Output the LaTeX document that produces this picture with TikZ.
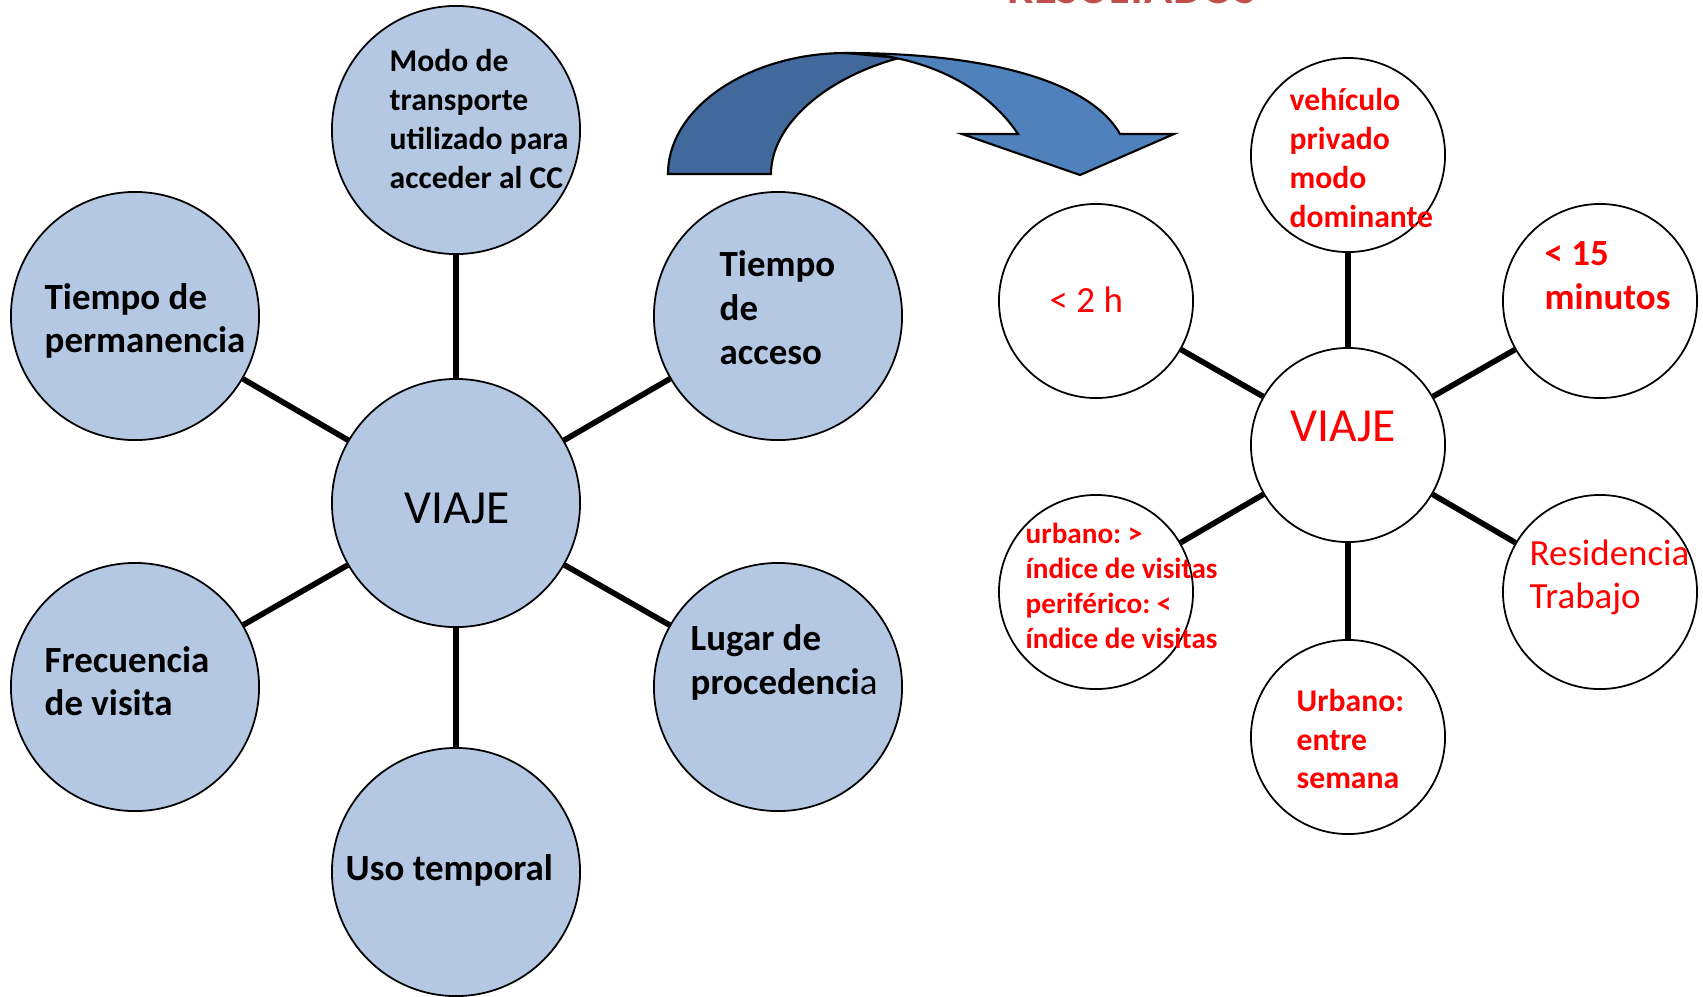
\documentclass[tikz,border=0pt]{standalone}
\usepackage{fontspec}
\setmainfont{Carlito}
\usetikzlibrary{calc}
\frenchspacing
\definecolor{azulclaro}{RGB}{180,199,227}
\definecolor{azuloscuro}{RGB}{65,105,155}
\definecolor{azulflecha}{RGB}{79,129,189}
\definecolor{rojotitulo}{RGB}{192,80,77}
\tikzset{
    grande/.style={circle,draw,line width=0.5pt,fill=azulclaro,minimum size=2.48cm,inner sep=0pt},
    chico/.style={circle,draw,line width=0.5pt,fill=white,minimum size=1.94cm,inner sep=0pt},
    radio/.style={line width=1.6pt},
    texto/.style={align=left,anchor=west,inner sep=0pt},
    negrita/.style 2 args={texto,font=\bfseries\fontsize{#1}{#2}\selectfont},
    normal/.style 2 args={texto,font=\fontsize{#1}{#2}\selectfont},
}
\begin{document}
\begin{tikzpicture}[x=0.01cm,y=-0.01cm]
    \useasboundingbox (0,0) rectangle (1703,996);
    % titulo cortado arriba
    \node[anchor=base west,inner sep=0pt,text=rojotitulo,font=\bfseries\fontsize{13.3}{15}\selectfont] (titulo) at (1007,3) {RESULTADOS};
    % flecha curva
    \fill[azuloscuro,draw=black,line width=0.6pt] (668,174) .. controls (668,107) and (750,53) .. (846,53)
        -- (899,58) .. controls (825,78) and (771,125) .. (771,174) -- cycle;
    \fill[azulflecha,draw=black,line width=0.6pt] (846,53) .. controls (978,53) and (1088,78) .. (1120,134)
        -- (1174,134) -- (1080,175) -- (962,134) -- (1018,134)
        .. controls (982,80) and (913,53) .. (846,53) -- cycle;
    % estrella izquierda
    \node[grande] (viaje) at (456,503) {};
    \node[grande] (modo) at (456,130) {};
    \node[grande] (acceso) at (778,316) {};
    \node[grande] (permanencia) at (135,316) {};
    \node[grande] (frecuencia) at (135,687) {};
    \node[grande] (lugar) at (778,687) {};
    \node[grande] (uso) at (456,872) {};
    \foreach \n in {modo,acceso,permanencia,frecuencia,lugar,uso}
        \draw[radio] (viaje) -- (\n);
    \node[normal={13.5}{16}] (tviaje) at (404,508) {VIAJE};
    \node[negrita={9}{11.1}] (tmodo) at (389,119) {Modo de\\transporte\\utilizado para\\acceder al CC};
    \node[negrita={10.5}{12.5}] (tacceso) at (719,308) {Tiempo\\de\\acceso};
    \node[negrita={10.5}{12.4}] (tpermanencia) at (44,321) {Tiempo de\\permanencia};
    \node[negrita={10.5}{12.4}] (tfrecuencia) at (44,681) {Frecuencia\\de visita};
    \node[negrita={10.5}{12.5}] (tlugar) at (690,662) {Lugar de\\procedenci\textmd{a}};
    \node[negrita={10.5}{12.4}] (tuso) at (345,870) {Uso temporal};
    % estrella derecha (resultados)
    \node[chico] (rviaje) at (1348,445) {};
    \node[chico] (rmodo) at (1348,155) {};
    \node[chico] (racceso) at (1600,301) {};
    \node[chico] (rpermanencia) at (1096,301) {};
    \node[chico] (rfrecuencia) at (1096,592) {};
    \node[chico] (rlugar) at (1600,592) {};
    \node[chico] (ruso) at (1348,737) {};
    \foreach \n in {rmodo,racceso,rpermanencia,rfrecuencia,rlugar,ruso}
        \draw[radio] (rviaje) -- (\n);
    \begin{scope}[text=red]
        \node[normal={13.5}{16}] (trviaje) at (1290,426) {VIAJE};
        \node[negrita={9}{11}] (trmodo) at (1289,158) {vehículo\\privado\\modo\\dominante};
        \node[negrita={10.5}{12.5}] (tracceso) at (1544,276) {< 15\\minutos};
        \node[normal={10.5}{12.5}] (trpermanencia) at (1049,300) {< 2 h};
        \node[negrita={8.3}{9.9}] (trfrecuencia) at (1025,586) {urbano: >\\índice de visitas\\periférico: <\\índice de visitas};
        \node[normal={10.5}{12.3}] (trlugar) at (1529,577) {Residencia\\Trabajo};
        \node[negrita={9}{11}] (truso) at (1296,739) {Urbano:\\entre\\semana};
    \end{scope}
\end{tikzpicture}
\end{document}
